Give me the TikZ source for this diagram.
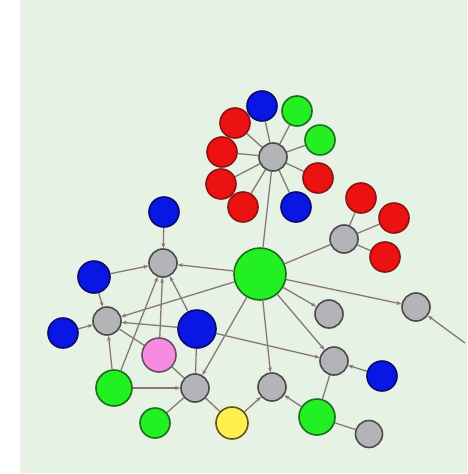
\documentclass[tikz,border=0pt]{standalone}
\usetikzlibrary{arrows.meta}
\pgfdeclarelayer{bg}
\pgfdeclarelayer{edges}
\pgfsetlayers{bg,edges,main}
\definecolor{bgc}{RGB}{230,242,228}
\definecolor{edgec}{RGB}{138,118,118}
\definecolor{grayf}{RGB}{180,180,184}
\definecolor{grayd}{RGB}{75,75,75}
\definecolor{redf}{RGB}{236,18,18}
\definecolor{redd}{RGB}{140,20,20}
\definecolor{bluef}{RGB}{10,22,228}
\definecolor{blued}{RGB}{10,10,110}
\definecolor{greenf}{RGB}{34,240,34}
\definecolor{greend}{RGB}{30,110,30}
\definecolor{pinkf}{RGB}{246,140,226}
\definecolor{pinkd}{RGB}{110,75,100}
\definecolor{yellowf}{RGB}{255,240,80}
\definecolor{yellowd}{RGB}{95,85,30}
\tikzset{
  nd/.style={circle,inner sep=0pt,line width=1.6pt},
  gr/.style={nd,fill=grayf,draw=grayd,minimum size=#1pt},
  rd/.style={nd,fill=redf,draw=redd,minimum size=#1pt},
  bl/.style={nd,fill=bluef,draw=blued,minimum size=#1pt},
  gn/.style={nd,fill=greenf,draw=greend,minimum size=#1pt},
  pk/.style={nd,fill=pinkf,draw=pinkd,minimum size=#1pt},
  yl/.style={nd,fill=yellowf,draw=yellowd,minimum size=#1pt},
  ln/.style={draw=edgec,line width=1.3pt},
  ar/.style={ln,-{Stealth[length=5pt,width=4pt]}},
}
\begin{document}
\begin{tikzpicture}[x=1pt,y=-1pt]
\useasboundingbox (0,0) rectangle (467,474);
\begin{pgfonlayer}{bg}
\fill[bgc] (20,0) rectangle (467,473);
\end{pgfonlayer}
% top cluster
\node[gr=28] (hub) at (273,157) {};
\node[bl=30] (tb) at (262,106) {};
\node[gn=30] (tg1) at (297,111) {};
\node[gn=30] (tg2) at (320,140) {};
\node[rd=30] (tr1) at (318,178) {};
\node[bl=30] (tb2) at (296,207) {};
\node[rd=30] (tr2) at (243,207) {};
\node[rd=30] (tr3) at (221,184) {};
\node[rd=30] (tr4) at (222,152) {};
\node[rd=30] (tr5) at (235,123) {};
% center
\node[gn=52] (G) at (260,274) {};
% right cluster
\node[gr=28] (rg) at (344,239) {};
\node[rd=30] (rr1) at (361,198) {};
\node[rd=30] (rr2) at (394,218) {};
\node[rd=30] (rr3) at (385,257) {};
\node[gr=28] (fg) at (416,307) {};
\coordinate (off) at (465,343);
\node[gr=28] (g3) at (329,314) {};
\node[gr=28] (g4) at (334,361) {};
\node[bl=30] (b4) at (382,376) {};
\node[gr=28] (g5) at (272,387) {};
\node[gn=36] (gn5) at (317,417) {};
\node[gr=27] (g6) at (369,434) {};
% left
\node[bl=30] (lb) at (164,212) {};
\node[gr=28] (lg) at (163,263) {};
\node[bl=32] (lbl) at (94,277) {};
\node[gr=28] (llg) at (107,321) {};
\node[bl=30] (lbf) at (63,333) {};
\node[bl=38] (bb) at (197,329) {};
\node[pk=34] (pk) at (159,355) {};
\node[gn=36] (gl) at (114,388) {};
\node[gr=28] (cg) at (195,388) {};
\node[gn=30] (gs) at (155,423) {};
\node[yl=32] (yl) at (232,423) {};
\begin{pgfonlayer}{edges}
\foreach \n in {tb,tg1,tg2,tr1,tb2,tr2,tr3,tr4,tr5} \draw[ln] (\n) -- (hub);
\draw[ln] (G) -- (hub);
\draw[ln] (G) -- (rg);
\foreach \n in {rr1,rr2,rr3} \draw[ln] (\n) -- (rg);
\draw[ar] (G) -- (fg);
\draw[ar] (off) -- (fg);
\draw[ar] (G) -- (g3);
\draw[ar] (G) -- (g4);
\draw[ar] (G) -- (g5);
\draw[ar] (G) -- (cg);
\draw[ar] (G) -- (llg);
\draw[ar] (G) -- (lg);
\draw[ar] (lb) -- (lg);
\draw[ar] (lbl) -- (lg);
\draw[ar] (bb) -- (lg);
\draw[ar] (pk) -- (lg);
\draw[ar] (gl) -- (lg);
\draw[ar] (lbf) -- (llg);
\draw[ar] (lbl) -- (llg);
\draw[ar] (bb) -- (llg);
\draw[ar] (gl) -- (llg);
\draw[ln] (llg) -- (pk);
\draw[ln] (pk) -- (cg);
\draw[ar] (gl) -- (cg);
\draw[ln] (bb) -- (cg);
\draw[ln] (gs) -- (cg);
\draw[ln] (cg) -- (yl);
\draw[ar] (yl) -- (g5);
\draw[ar] (gn5) -- (g5);
\draw[ar] (bb) -- (g4);
\draw[ar] (b4) -- (g4);
\draw[ln] (gn5) -- (g4);
\draw[ln] (gn5) -- (g6);
\end{pgfonlayer}
\end{tikzpicture}
\end{document}
